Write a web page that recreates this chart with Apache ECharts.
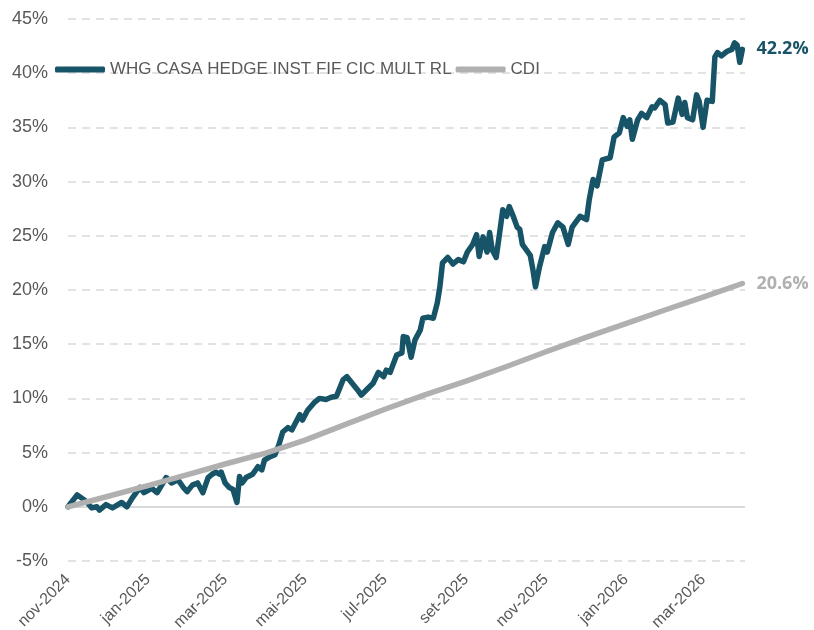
<!DOCTYPE html>
<html>
<head>
<meta charset="utf-8">
<script src="https://cdn.jsdelivr.net/npm/echarts@6/dist/echarts.min.js"></script>
<style>
  html, body { margin: 0; padding: 0; background: #fff; }
  #chart { width: 814px; height: 630px; }
</style>
</head>
<body>
<div id="chart"></div>
<script>
// fund (cumulative return, %)
var fundName = "WHG CASA HEDGE INST FIF CIC MULT RL";
var fundDates = [
  "2024-11-01","2024-11-08","2024-11-15","2024-11-19","2024-11-23","2024-11-25","2024-11-30",
  "2024-12-05","2024-12-12","2024-12-16","2024-12-20","2024-12-26","2024-12-29",
  "2025-01-04","2025-01-08","2025-01-15","2025-01-19","2025-01-24","2025-01-28","2025-01-31",
  "2025-02-04","2025-02-08","2025-02-12","2025-02-16","2025-02-19","2025-02-22","2025-02-25","2025-02-26",
  "2025-03-01","2025-03-04","2025-03-07","2025-03-10","2025-03-12","2025-03-14","2025-03-17","2025-03-22","2025-03-26","2025-03-29","2025-03-31",
  "2025-04-04","2025-04-08","2025-04-11","2025-04-14","2025-04-18","2025-04-21","2025-04-27","2025-04-29",
  "2025-05-03","2025-05-08","2025-05-12","2025-05-17","2025-05-21","2025-05-25","2025-05-30",
  "2025-06-02","2025-06-06","2025-06-10","2025-06-13","2025-06-17","2025-06-22","2025-06-26","2025-06-30",
  "2025-07-02","2025-07-05","2025-07-10","2025-07-14","2025-07-15","2025-07-18","2025-07-21","2025-07-24","2025-07-28","2025-07-30",
  "2025-08-03","2025-08-07","2025-08-10","2025-08-12","2025-08-14","2025-08-18","2025-08-22","2025-08-26","2025-08-30",
  "2025-09-02","2025-09-06","2025-09-09","2025-09-11","2025-09-14","2025-09-17","2025-09-19","2025-09-21","2025-09-24","2025-09-27","2025-09-29",
  "2025-10-02","2025-10-04","2025-10-07","2025-10-10","2025-10-12","2025-10-14","2025-10-20","2025-10-22","2025-10-24","2025-10-27","2025-10-31",
  "2025-11-02","2025-11-06","2025-11-10","2025-11-14","2025-11-18","2025-11-21","2025-11-27",
  "2025-12-02","2025-12-04","2025-12-07","2025-12-10","2025-12-14","2025-12-20","2025-12-23","2025-12-27","2025-12-30",
  "2026-01-02","2026-01-04","2026-01-06","2026-01-10","2026-01-13","2026-01-17","2026-01-21","2026-01-23","2026-01-27","2026-01-31",
  "2026-02-02","2026-02-06","2026-02-10","2026-02-13","2026-02-15","2026-02-17","2026-02-21","2026-02-24","2026-02-26",
  "2026-03-01","2026-03-04","2026-03-08","2026-03-10","2026-03-12","2026-03-15","2026-03-19","2026-03-23","2026-03-25","2026-03-27","2026-03-29","2026-03-31"
];
var fundValues = [
  0.0, 1.1, 0.5, -0.1, 0.0, -0.3, 0.2,
  -0.1, 0.4, 0.0, 0.8, 1.8, 1.3,
  1.7, 1.3, 2.7, 2.2, 2.5, 1.8, 1.4,
  2.0, 2.2, 1.3, 2.7, 3.0, 3.2, 3.0, 3.2,
  2.2, 1.8, 1.6, 0.4, 2.8, 2.2, 2.7, 3.0, 3.7, 3.4, 4.3,
  4.6, 4.8, 5.7, 6.9, 7.3, 7.1, 8.5, 8.0,
  8.9, 9.6, 10.0, 9.9, 10.1, 10.2, 11.7,
  12.0, 11.4, 10.8, 10.3, 10.8, 11.4, 12.4, 12.0,
  12.6, 12.4, 14.0, 14.2, 15.7, 15.6, 13.8, 15.4, 16.3, 17.4,
  17.5, 17.4, 18.8, 20.3, 22.5, 23.0, 22.4, 22.8, 22.6,
  23.5, 24.2, 25.1, 23.1, 24.9, 23.5, 25.3, 23.7, 23.0, 25.6, 27.4,
  26.8, 27.7, 26.8, 25.8, 25.6, 24.2, 23.2, 21.9, 20.3, 22.1, 24.0,
  23.5, 25.3, 26.2, 25.8, 24.2, 25.8, 26.8,
  26.5, 28.3, 30.2, 29.6, 32.0, 32.2, 34.1, 34.5, 35.9,
  35.1, 35.7, 33.9, 35.7, 36.3, 35.9, 36.9, 36.8, 37.5, 37.1,
  35.4, 35.5, 37.7, 36.2, 37.3, 35.9, 35.7, 38.0, 37.4,
  35.0, 37.5, 37.4, 41.5, 41.9, 41.6, 42.0, 42.2, 42.8, 42.6, 41.0, 42.2
];

// CDI (cumulative, %)
var cdiName = "CDI";
var cdiDates = [
  "2024-11-01","2024-12-01","2025-01-01","2025-02-01","2025-03-01","2025-04-01",
  "2025-05-01","2025-06-01","2025-07-01","2025-08-01","2025-09-01","2025-10-01",
  "2025-11-01","2025-12-01","2026-01-01","2026-02-01","2026-03-01","2026-03-31"
];
var cdiValues = [0, 0.95, 1.95, 3.0, 3.95, 4.95, 6.15, 7.6, 9.0, 10.35, 11.6, 12.9, 14.3, 15.6, 16.9, 18.2, 19.35, 20.6];

// x tick labels (every two months)
var tickDates = ["2024-11-01","2025-01-01","2025-03-01","2025-05-01","2025-07-01","2025-09-01","2025-11-01","2026-01-01","2026-03-01"];
var monthNames = ["jan","fev","mar","abr","mai","jun","jul","ago","set","out","nov","dez"];
var xStart = "2024-11-01";
var xEnd = "2026-04-02";

var fundLabel = "42.2%";
var cdiLabel = "20.6%";

var fundColor = "#185467";
var cdiColor = "#b0b0b0";
var textColor = "#595959";
var font = "Liberation Sans, Arial, sans-serif";

function ts(s) {
  return echarts.number.parseDate(s).getTime();
}

var fundData = fundDates.map(function (d, i) { return [ts(d), fundValues[i]]; });
var cdiData = cdiDates.map(function (d, i) { return [ts(d), cdiValues[i]]; });

var chart = echarts.init(document.getElementById("chart"));
var option = {
  animation: false,
  backgroundColor: "#fff",
  textStyle: { fontFamily: font },
  legend: {
    left: 50,
    top: 56,
    itemGap: 4,
    itemWidth: 50,
    itemHeight: 6,
    icon: "roundRect",
    textStyle: { color: textColor, fontSize: 17, fontFamily: font },
    data: [fundName, cdiName],
  },
  grid: {
    left: 68,
    right: 69,
    top: 19,
    bottom: 69,
    containLabel: false,
    outerBoundsMode: "none",
  },
  xAxis: {
    type: "value",
    min: ts(xStart),
    max: ts(xEnd),
    axisLine: { show: false },
    axisTick: { show: false },
    splitLine: { show: false },
    axisLabel: {
      rotate: 45,
      margin: 16,
      color: textColor,
      fontSize: 16,
      fontFamily: font,
      customValues: tickDates.map(ts),
      formatter: function (val) {
        var d = new Date(val);
        return monthNames[d.getMonth()] + "-" + d.getFullYear();
      },
    },
  },
  yAxis: {
    type: "value",
    min: -5,
    max: 45,
    interval: 5,
    axisLine: { show: false },
    axisTick: { show: false },
    axisLabel: {
      margin: 20,
      color: textColor,
      fontSize: 18,
      fontFamily: font,
      formatter: "{value}%",
    },
    splitLine: {
      show: true,
      lineStyle: { color: "#d9d9d9", type: [8, 6], width: 1.5 },
    },
  },
  series: [
    {
      name: fundName,
      type: "line",
      data: fundData,
      showSymbol: false,
      symbol: "none",
      lineStyle: { color: fundColor, width: 5.5, join: "round", cap: "round" },
      itemStyle: { color: fundColor },
      endLabel: {
        show: true,
        formatter: fundLabel,
        distance: 14,
        color: fundColor,
        fontSize: 18,
        fontWeight: "bold",
        fontFamily: "Open Sans, sans-serif",
      },
      markLine: {
        silent: true,
        symbol: "none",
        label: { show: false },
        lineStyle: { color: "#d9d9d9", type: "solid", width: 2 },
        data: [{ yAxis: 0 }],
        z: 1,
      },
    },
    {
      name: cdiName,
      type: "line",
      data: cdiData,
      showSymbol: false,
      symbol: "none",
      lineStyle: { color: cdiColor, width: 5.5, join: "round", cap: "round" },
      itemStyle: { color: cdiColor },
      endLabel: {
        show: true,
        formatter: cdiLabel,
        distance: 14,
        color: cdiColor,
        fontSize: 18,
        fontWeight: "bold",
        fontFamily: "Open Sans, sans-serif",
      },
    },
  ],
};
chart.setOption(option);
</script>
</body>
</html>
